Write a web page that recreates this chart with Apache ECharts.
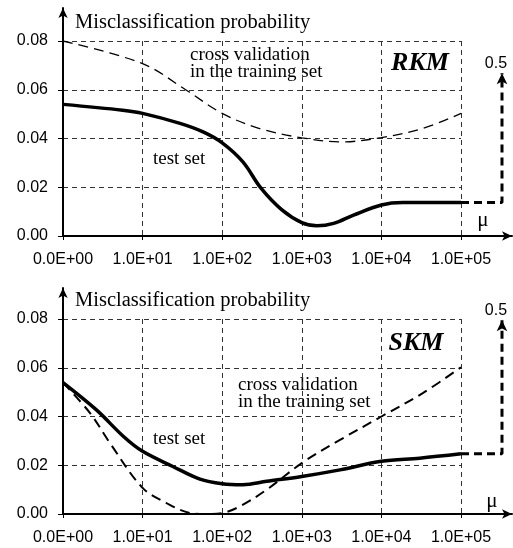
<!DOCTYPE html>
<html><head><meta charset="utf-8">
<script src="https://cdn.jsdelivr.net/npm/echarts@6/dist/echarts.min.js"></script>
<style>html,body{margin:0;padding:0;background:#fff}#c{width:513px;height:548px}</style>
</head><body><div id="c"></div>
<script>
// x positions are decades of mu (0 = 0.0E+00, 1 = 1.0E+01, ... 5 = 1.0E+05)
const xTickLabels = ['0.0E+00','1.0E+01','1.0E+02','1.0E+03','1.0E+04','1.0E+05'];
const yTickStep = 0.02;
const yMax = 0.08;

const rkmTestX = [0, 0.75, 1, 1.47, 1.76, 2, 2.26, 2.49, 2.75, 3, 3.19, 3.4, 3.65, 4, 4.27, 5];
const rkmTestY = [0.0540, 0.0516, 0.0503, 0.0462, 0.0427, 0.0382, 0.0304, 0.0195, 0.0107, 0.0055, 0.0042, 0.0052, 0.0086, 0.0127, 0.0137, 0.0137];
const rkmCvX = [0, 1, 1.55, 2, 2.47, 3, 3.5, 4, 4.52, 5];
const rkmCvY = [0.0800, 0.0707, 0.0598, 0.0503, 0.0441, 0.0403, 0.0386, 0.0404, 0.0441, 0.0503];

const skmTestX = [0, 0.42, 0.76, 1, 1.38, 1.72, 2, 2.26, 2.56, 3, 3.48, 4, 4.48, 5];
const skmTestY = [0.0539, 0.0427, 0.0318, 0.0257, 0.0195, 0.0143, 0.0124, 0.0120, 0.0134, 0.0154, 0.0181, 0.0216, 0.0229, 0.0247];
const skmCvX = [0, 0.34, 0.59, 1, 1.30, 1.60, 1.81, 2, 2.22, 2.56, 3, 3.48, 4, 4.52, 5];
const skmCvY = [0.0539, 0.0414, 0.0291, 0.0107, 0.0045, 0.0004, 0.0000, 0.0004, 0.0031, 0.0100, 0.0209, 0.0304, 0.0400, 0.0496, 0.0602];

// off-scale limit (mu -> infinity gives 0.5), drawn as a broken arrow
const limitX = [5, 5.515, 5.515];
const rkmLimitY = [0.0137, 0.0137, 0.0668];
const skmLimitY = [0.0247, 0.0247, 0.0795];
const limitLabel = '0.5';

const SERIF = '"Liberation Serif", "Times New Roman", serif';
const SANS = '"Liberation Sans", Arial, sans-serif';

// plot geometry
const L = 63, PW = 398, PH = 195, FW = 449;
const top1 = 41, frameTop1 = 8;
const top2 = 319, frameTop2 = 288;
const frameXMax = 5 * FW / PW;
const frameYMax1 = yMax * (top1 + PH - frameTop1) / PH;
const frameYMax2 = yMax * (top2 + PH - frameTop2) / PH;

const zip = (xs, ys) => xs.map((x, i) => [x, ys[i]]);

function dataAxesX(gi) {
  return {
    gridIndex: gi, type: 'value', min: 0, max: 5, interval: 1,
    axisLine: { show: false },
    axisTick: { show: true, length: 4, lineStyle: { color: '#000', width: 1 } },
    axisLabel: { margin: 16, color: '#000', fontSize: 16, fontFamily: SANS,
      formatter: v => xTickLabels[Math.round(v)] },
    splitLine: { show: true, showMinLine: false, lineStyle: { color: '#333', width: 1, type: [5, 4] } }
  };
}
function dataAxesY(gi) {
  return {
    gridIndex: gi, type: 'value', min: 0, max: yMax, interval: yTickStep,
    axisLine: { show: false },
    axisTick: { show: true, length: 5, lineStyle: { color: '#000', width: 1 } },
    axisLabel: { margin: 15, color: '#000', fontSize: 16, fontFamily: SANS,
      formatter: v => v.toFixed(2) },
    splitLine: { show: true, showMinLine: false, lineStyle: { color: '#333', width: 1, type: [5, 4] } }
  };
}
const frameLine = { show: true, onZero: false, symbol: ['none', 'arrow'], symbolSize: [7, 10], lineStyle: { color: '#000', width: 2 } };
function frameX(gi) {
  return { gridIndex: gi, type: 'value', min: 0, max: frameXMax, z: 5, position: 'bottom',
    axisLine: frameLine, axisTick: { show: false }, axisLabel: { show: false }, splitLine: { show: false } };
}
function frameY(gi, mx) {
  return { gridIndex: gi, type: 'value', min: 0, max: mx, z: 5, position: 'left',
    axisLine: frameLine, axisTick: { show: false }, axisLabel: { show: false }, splitLine: { show: false } };
}

function limitSeries(ai, ys) {
  const data = limitX.map((x, i) => {
    const item = { value: [x, ys[i]], symbol: 'none' };
    if (i === limitX.length - 1) {
      item.symbol = 'arrow';
      item.symbolSize = [8, 11];
      item.label = { show: true, formatter: limitLabel, position: 'top', distance: 2, offset: [-6, 0],
        color: '#000', fontSize: 16, fontFamily: SANS };
    }
    return item;
  });
  return { type: 'line', xAxisIndex: ai, yAxisIndex: ai, smooth: false,
    showSymbol: true, itemStyle: { color: '#000' }, z: 4,
    lineStyle: { color: '#000', width: 3, type: [8, 5] }, data };
}

const option = {
  animation: false,
  backgroundColor: '#fff',
  grid: [
    { left: L, top: top1, width: PW, height: PH },
    { left: L, top: frameTop1, width: FW, height: top1 + PH - frameTop1 },
    { left: L, top: top2, width: PW, height: PH },
    { left: L, top: frameTop2, width: FW, height: top2 + PH - frameTop2 }
  ],
  xAxis: [dataAxesX(0), frameX(1), dataAxesX(2), frameX(3)],
  yAxis: [dataAxesY(0), frameY(1, frameYMax1), dataAxesY(2), frameY(3, frameYMax2)],
  series: [
    { type: 'line', xAxisIndex: 0, yAxisIndex: 0, smooth: 0.35, symbol: 'none', z: 4,
      lineStyle: { color: '#000', width: 3.5 }, data: zip(rkmTestX, rkmTestY) },
    { type: 'line', xAxisIndex: 0, yAxisIndex: 0, smooth: 0.35, symbol: 'none', z: 3,
      lineStyle: { color: '#000', width: 1.3, type: [10, 6] }, data: zip(rkmCvX, rkmCvY) },
    limitSeries(1, rkmLimitY),
    { type: 'line', xAxisIndex: 2, yAxisIndex: 2, smooth: 0.35, symbol: 'none', z: 4,
      lineStyle: { color: '#000', width: 3.5 }, data: zip(skmTestX, skmTestY) },
    { type: 'line', xAxisIndex: 2, yAxisIndex: 2, smooth: 0.35, symbol: 'none', z: 3,
      lineStyle: { color: '#000', width: 2, type: [10, 6] }, data: zip(skmCvX, skmCvY) },
    limitSeries(3, skmLimitY)
  ],
  graphic: [
    { type: 'text', x: 75, y: 23, style: { text: 'Misclassification probability', font: '20.5px ' + SERIF, fill: '#000', align: 'left', verticalAlign: 'middle' } },
    { type: 'text', x: 190, y: 46, style: { text: 'cross validation\nin the training set', font: '19px ' + SERIF, lineHeight: 17.5, fill: '#000', align: 'left', verticalAlign: 'top' } },
    { type: 'text', x: 153, y: 159, style: { text: 'test set', font: '19px ' + SERIF, fill: '#000', align: 'left', verticalAlign: 'middle' } },
    { type: 'text', x: 420, y: 63, style: { text: 'RKM', font: 'italic bold 26px ' + SERIF, fill: '#000', align: 'center', verticalAlign: 'middle' } },
    { type: 'text', x: 483, y: 220, style: { text: 'μ', font: '21px ' + SERIF, fill: '#000', align: 'center', verticalAlign: 'middle' } },

    { type: 'text', x: 75, y: 301, style: { text: 'Misclassification probability', font: '20.5px ' + SERIF, fill: '#000', align: 'left', verticalAlign: 'middle' } },
    { type: 'text', x: 238, y: 376, style: { text: 'cross validation\nin the training set', font: '19px ' + SERIF, lineHeight: 17.5, fill: '#000', align: 'left', verticalAlign: 'top' } },
    { type: 'text', x: 153, y: 439, style: { text: 'test set', font: '19px ' + SERIF, fill: '#000', align: 'left', verticalAlign: 'middle' } },
    { type: 'text', x: 416, y: 343, style: { text: 'SKM', font: 'italic bold 26px ' + SERIF, fill: '#000', align: 'center', verticalAlign: 'middle' } },
    { type: 'text', x: 492, y: 501, style: { text: 'μ', font: '21px ' + SERIF, fill: '#000', align: 'center', verticalAlign: 'middle' } }
  ]
};
const chart = echarts.init(document.getElementById('c'), null, { renderer: 'canvas' });
chart.setOption(option);
</script>
</body></html>
